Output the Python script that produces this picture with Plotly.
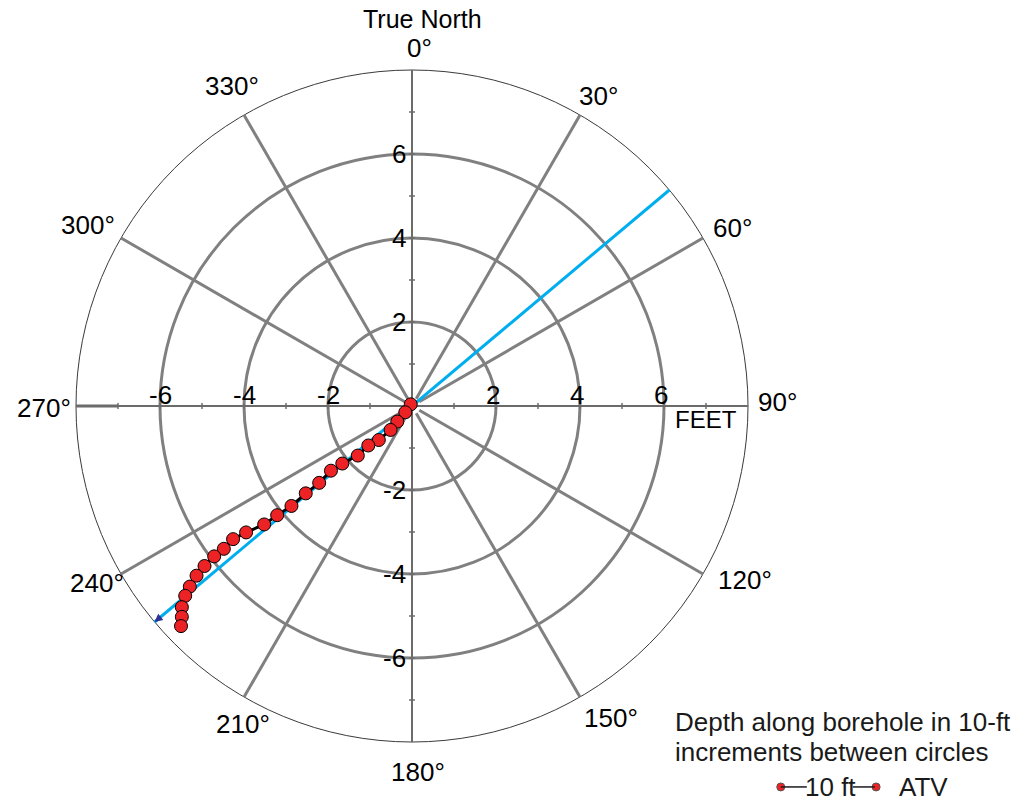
import numpy as np
import plotly.graph_objects as go

# ---------------- data ----------------
# borehole trace, offsets from collar in feet (east, north), one point per 10 ft of depth
east_ft = [-0.03, -0.16, -0.35, -0.51, -0.79, -1.04, -1.29, -1.66, -1.93, -2.21,
           -2.53, -2.87, -3.21, -3.52, -3.95, -4.26, -4.48, -4.71, -4.94, -5.13,
           -5.29, -5.40, -5.48, -5.48, -5.50]
north_ft = [0.04, -0.15, -0.37, -0.57, -0.81, -0.94, -1.18, -1.37, -1.54, -1.83,
            -2.08, -2.38, -2.60, -2.82, -3.01, -3.17, -3.40, -3.58, -3.81, -4.04,
            -4.30, -4.52, -4.79, -5.02, -5.24]
ring_radii = [2, 4, 6]
outer_radius = 8
spoke_azimuths = [30, 60, 120, 150, 210, 240, 300, 330]
azimuth_labels = ["0°", "30°", "60°", "90°", "120°", "150°",
                  "180°", "210°", "240°", "270°", "300°", "330°"]
axis_tick_labels = [-6, -4, -2, 2, 4, 6]
atv_azimuth = 50  # ATV mean azimuth (deg from true north)

# ---------------- styling / positions ----------------
PX_PER_FT = 42.0
W, H = 1027, 808
CX, CY = 412, 406
FONT = "Liberation Sans, Arial, sans-serif"
FS = 26
GRAY = "#808080"
AXGRAY = "#6b6b6b"

azimuth_label_pos = [(0.19, 8.52), (4.43, 7.38), (7.62, 4.24), (8.71, 0.10),
                     (7.93, -4.14), (4.74, -7.43), (0.14, -8.71), (-4.02, -7.57),
                     (-7.50, -4.21), (-8.76, -0.05), (-7.71, 4.31), (-4.29, 7.62)]

fig = go.Figure()
shapes = []
annotations = []

# rings
for r in ring_radii:
    shapes.append(dict(type="circle", xref="x", yref="y", x0=-r, x1=r, y0=-r, y1=r,
                       line=dict(color=GRAY, width=3), layer="below"))
shapes.append(dict(type="circle", xref="x", yref="y", x0=-outer_radius, x1=outer_radius,
                   y0=-outer_radius, y1=outer_radius,
                   line=dict(color="#3a3a3a", width=1), layer="below"))

# spokes
for az in spoke_azimuths:
    a = np.deg2rad(az)
    shapes.append(dict(type="line", xref="x", yref="y", x0=0.2 * np.sin(a), y0=0.2 * np.cos(a),
                       x1=outer_radius * np.sin(a), y1=outer_radius * np.cos(a),
                       line=dict(color=GRAY, width=3), layer="below"))

# axes through the centre
shapes.append(dict(type="line", xref="x", yref="y", x0=-outer_radius, x1=outer_radius, y0=0, y1=0,
                   line=dict(color=AXGRAY, width=2), layer="below"))
shapes.append(dict(type="line", xref="x", yref="y", x0=0, x1=0, y0=-outer_radius, y1=outer_radius,
                   line=dict(color=AXGRAY, width=2), layer="below"))
shapes.append(dict(type="line", xref="x", yref="y", x0=-outer_radius, x1=-7, y0=0, y1=0,
                   line=dict(color=AXGRAY, width=3), layer="below"))
for t in range(-7, 8):
    if t == 0:
        continue
    shapes.append(dict(type="line", xref="x", yref="y", x0=t, x1=t, y0=-0.07, y1=0.07,
                       line=dict(color=AXGRAY, width=1.5), layer="below"))
    shapes.append(dict(type="line", xref="x", yref="y", x0=-0.07, x1=0.07, y0=t, y1=t,
                       line=dict(color=AXGRAY, width=1.5), layer="below"))

# tick labels
for v in axis_tick_labels:
    annotations.append(dict(x=v - (0.08 if v > 0 else 0), y=0.27, xref="x", yref="y",
                            text=str(v), showarrow=False,
                            font=dict(family=FONT, size=FS, color="black"),
                            xanchor="center", yanchor="middle"))
    annotations.append(dict(x=-0.1, y=v, xref="x", yref="y", text=str(v), showarrow=False,
                            font=dict(family=FONT, size=FS, color="black"),
                            xanchor="right", yanchor="middle"))
annotations.append(dict(x=7.0, y=-0.33, xref="x", yref="y", text="FEET", showarrow=False,
                        font=dict(family=FONT, size=FS - 2, color="black"),
                        xanchor="center", yanchor="middle"))

# azimuth labels
for lab, (lx, ly) in zip(azimuth_labels, azimuth_label_pos):
    annotations.append(dict(x=lx, y=ly, xref="x", yref="y", text=lab, showarrow=False,
                            font=dict(family=FONT, size=FS, color="black"),
                            xanchor="center", yanchor="middle"))
annotations.append(dict(x=0.24, y=9.21, xref="x", yref="y", text="True North", showarrow=False,
                        font=dict(family=FONT, size=FS - 1, color="black"),
                        xanchor="center", yanchor="middle"))

# ATV azimuth line
a = np.deg2rad(atv_azimuth)
bx, by = outer_radius * np.sin(a), outer_radius * np.cos(a)
fig.add_trace(go.Scatter(x=[bx, -bx], y=[by, -by], mode="lines",
                         line=dict(color="#00aeef", width=3), hoverinfo="skip"))
annotations.append(dict(x=-bx, y=-by, ax=-bx * 0.97, ay=-by * 0.97, xref="x", yref="y",
                        axref="x", ayref="y", text="", showarrow=True, arrowhead=2,
                        arrowsize=1, arrowwidth=1.6, arrowcolor="#2e3192"))

# borehole trace
fig.add_trace(go.Scatter(x=east_ft, y=north_ft, mode="lines+markers",
                         line=dict(color="black", width=3),
                         marker=dict(size=13, color="#ed2224", line=dict(color="black", width=1)),
                         hoverinfo="skip"))

# legend block
for txt, ly in [("Depth along borehole in 10-ft", -7.52), ("increments between circles", -8.24)]:
    annotations.append(dict(x=6.21, y=ly, xref="x", yref="y", text=txt, showarrow=False,
                            font=dict(family=FONT, size=FS, color="#1a1a1a"),
                            xanchor="left", yanchor="middle"))
leg_y = -9.07
shapes.append(dict(type="line", xref="x", yref="y", x0=8.78, x1=9.40, y0=leg_y, y1=leg_y,
                   line=dict(color="#1a1a1a", width=1.5)))
shapes.append(dict(type="line", xref="x", yref="y", x0=10.50, x1=11.02, y0=leg_y, y1=leg_y,
                   line=dict(color="#1a1a1a", width=1.5)))
fig.add_trace(go.Scatter(x=[8.78, 11.05], y=[leg_y, leg_y], mode="markers",
                         marker=dict(size=8, color="#ed2224", line=dict(color="#555", width=1)),
                         hoverinfo="skip"))
annotations.append(dict(x=9.97, y=leg_y, xref="x", yref="y", text="10 ft", showarrow=False,
                        font=dict(family=FONT, size=FS, color="#1a1a1a"),
                        xanchor="center", yanchor="middle"))
annotations.append(dict(x=12.18, y=leg_y, xref="x", yref="y", text="ATV", showarrow=False,
                        font=dict(family=FONT, size=FS, color="#1a1a1a"),
                        xanchor="center", yanchor="middle"))

fig.update_layout(
    width=W, height=H, autosize=False,
    margin=dict(l=0, r=0, t=0, b=0, pad=0),
    paper_bgcolor="white", plot_bgcolor="white",
    showlegend=False,
    shapes=shapes, annotations=annotations,
    xaxis=dict(range=[-CX / PX_PER_FT, (W - CX) / PX_PER_FT], visible=False, fixedrange=True),
    yaxis=dict(range=[-(H - CY) / PX_PER_FT, CY / PX_PER_FT], visible=False, fixedrange=True),
)

fig.write_html("out.html")
